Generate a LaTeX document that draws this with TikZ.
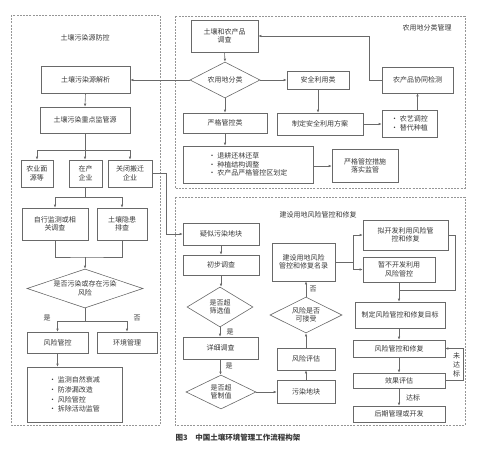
\documentclass[tikz,border=0pt]{standalone}
\usepackage{fontspec}
\setmainfont{Noto Sans CJK SC}
\usepackage{tikz}
\usetikzlibrary{positioning,shapes.geometric,arrows.meta}

\definecolor{linegray}{RGB}{105,105,105}
\definecolor{textgray}{RGB}{55,55,55}
\definecolor{panelgray}{RGB}{150,150,150}
\newcommand{\boxfont}{\fontsize{7}{8.6}\selectfont}

\tikzset{
  box/.style={draw=linegray, line width=0.6pt, align=center, inner sep=1pt, text=textgray, font=\boxfont},
  decide/.style={diamond, draw=linegray, line width=0.6pt, align=center, inner sep=0pt, text=textgray, font=\boxfont},
  panel/.style={draw=panelgray, line width=0.6pt, dash pattern=on 2pt off 1.2pt},
  flow/.style={draw=linegray, line width=0.6pt, -{Latex[length=3pt,width=2.6pt]}},
  link/.style={draw=linegray, line width=0.6pt},
  lbl/.style={text=textgray, font=\boxfont, inner sep=0pt}
}

\begin{document}
\begin{tikzpicture}[x=1pt,y=1pt,yscale=-1,xscale=1]
        \useasboundingbox (0,0) rectangle (477,463);

        %Panels
        \draw [panel] (11,15) rectangle (160,425);
        \draw [panel] (175,16) rectangle (465,188);
        \draw [panel] (175,197) rectangle (465,425);

        % Text Node
        \node [lbl] (ttlsrc) at (85,38) {土壤污染源防控};
        \node [lbl] (ttlfarm) at (427,28) {农用地分类管理};
        \node [lbl] (ttlland) at (318,215) {建设用地风险管控和修复};

        %Left: source control
        \node [box, minimum width=89, minimum height=27] (srcana) at (85.5,79.5) {土壤污染源解析};
        \node [box, minimum width=90, minimum height=26] (keysrc) at (85,120) {土壤污染重点监管源};
        \node [box, minimum width=32, minimum height=27] (agri) at (37,173.5) {农业面\\源等};
        \node [box, minimum width=33, minimum height=27] (prod) at (85.5,173.5) {在产\\企业};
        \node [box, minimum width=44, minimum height=27] (closed) at (130,173.5) {关闭搬迁\\企业};
        \node [box, minimum width=66, minimum height=32] (selfmon) at (55,224) {自行监测或相\\关调查};
        \node [box, minimum width=50, minimum height=32] (hidden) at (122,224) {土壤隐患\\排查};
        \node [decide, minimum width=116, minimum height=39, aspect=2.9] (polluted) at (85,288.5) {是否污染或存在污染\\风险};
        \node [box, minimum width=61, minimum height=21] (riskctl) at (57.5,342.5) {风险管控};
        \node [box, minimum width=60, minimum height=21] (envmgmt) at (127,342.5) {环境管理};
        \node [box, minimum width=95, minimum height=55, align=left, font=\fontsize{7}{9.7}\selectfont] (measures) at (74.5,394.5) {• 监测自然衰减\\• 防渗漏改造\\• 风险管控\\• 拆除活动监管};
        \coordinate (merge) at (85,257);

        %Top right: farmland
        \node [box, minimum width=67, minimum height=32] (survey) at (224.5,36) {土壤和农产品\\调查};
        \node [decide, minimum width=70, minimum height=36, aspect=1.9] (classify) at (225,80) {农用地分类};
        \node [box, minimum width=62, minimum height=18] (safeuse) at (318,80) {安全利用类};
        \node [box, minimum width=71, minimum height=26] (coinspect) at (417.5,80) {农产品协同检测};
        \node [box, minimum width=84, minimum height=20] (strict) at (225,123) {严格管控类};
        \node [box, minimum width=86, minimum height=22] (plan) at (320,124) {制定安全利用方案};
        \node [box, minimum width=55, minimum height=27, align=left] (agro) at (409.5,123.5) {• 农艺调控\\• 替代种植};
        \node [box, minimum width=130, minimum height=37, align=left] (retire) at (248,164.5) {• 退耕还林还草\\• 种植结构调整\\• 农产品严格管控区划定};
        \node [box, minimum width=66, minimum height=33] (strictsup) at (365,166) {严格管控措施\\落实监管};

        %Bottom right: construction land
        \node [box, minimum width=76, minimum height=22] (suspect) at (221,234) {疑似污染地块};
        \node [box, minimum width=76, minimum height=20] (prelim) at (221,265) {初步调查};
        \node [decide, minimum width=66, minimum height=40, aspect=1.6] (screen) at (220,307) {是否超\\筛选值};
        \node [box, minimum width=75, minimum height=22] (detail) at (220.5,348) {详细调查};
        \node [decide, minimum width=70, minimum height=34, aspect=2] (ctrlval) at (221,392) {是否超\\管制值};
        \node [box, minimum width=58, minimum height=23] (site) at (306,391.5) {污染地块};
        \node [box, minimum width=58, minimum height=22] (assess) at (306,359) {风险评估};
        \node [decide, minimum width=72, minimum height=36, aspect=2] (accept) at (306,315) {风险是否\\可接受};
        \node [box, minimum width=63, minimum height=38] (roster) at (303.5,262) {建设用地风险\\管控和修复名录};
        \node [box, minimum width=85, minimum height=30] (develop) at (405.5,235) {拟开发利用风险管\\控和修复};
        \node [box, minimum width=72, minimum height=25] (nodev) at (399,269.5) {暂不开发利用\\风险管控};
        \node [box, minimum width=90, minimum height=26] (target) at (400,315) {制定风险管控和修复目标};
        \node [box, minimum width=92, minimum height=17] (remed) at (399,348.5) {风险管控和修复};
        \node [box, minimum width=92, minimum height=15] (effect) at (399,380.5) {效果评估};
        \node [box, minimum width=92, minimum height=16] (post) at (399,414) {后期管理或开发};
        \coordinate (join) at (399,290);

        %Connectors left
        \draw [flow] (srcana.south) -- (keysrc.north);
        \draw [flow] (keysrc.south) -- ++(0,17) -| (agri.north);
        \draw [flow] (keysrc.south) -- ++(0,17) -| (closed.north);
        \draw [flow] (keysrc.south) -- (keysrc.south |- prod.north);
        \draw [flow] (prod.south) -- ++(0,10) -| (selfmon.north);
        \draw [flow] (prod.south) -- ++(0,10) -| (hidden.north);
        \draw [link] (selfmon.south) |- (merge) -| (hidden.south);
        \draw [flow] (merge) -- (polluted.north);
        \draw [flow] (polluted.south) -- ++(0,13) -| (riskctl.north);
        \draw [flow] (polluted.south) -- ++(0,13) -| (envmgmt.north);
        \draw [flow] (riskctl.south) -- (riskctl.south |- measures.north);
        \draw [flow] (closed.east) -- ++(14,0) |- (suspect.west);

        %Connectors farmland
        \draw [flow] (survey.south) -- (classify.north);
        \draw [flow] (classify.west) -- (classify.west -| srcana.east);
        \draw [flow] (classify.east) -- (safeuse.west);
        \draw [flow] (classify.south) -- (strict.north);
        \draw [flow] (safeuse.south) -- (safeuse.south |- plan.north);
        \draw [flow] (plan.east) -- (plan.east -| agro.west);
        \draw [flow] (agro.north -| coinspect.south) -- (coinspect.south);
        \draw [flow] (coinspect.west) -- ++(-12,0) |- (survey.east);
        \draw [flow] (strict.south) -- (retire.north -| strict.south);
        \draw [flow] (retire.east |- strictsup.west) -- (strictsup.west);

        %Connectors construction land
        \draw [flow] (suspect.south) -- (prelim.north);
        \draw [flow] (prelim.south) -- (prelim.south |- screen.north);
        \draw [flow] (screen.south) -- (screen.south |- detail.north);
        \draw [flow] (detail.south) -- (detail.south |- ctrlval.north);
        \draw [flow] (ctrlval.east) -- (ctrlval.east -| site.west);
        \draw [flow] (site.north) -- (assess.south);
        \draw [flow] (assess.north) -- (accept.south);
        \draw [flow] (accept.north) -- (accept.north |- roster.south);
        \draw [flow] (roster.east) -- ++(18,0) |- (develop.west);
        \draw [flow] (roster.east) -- ++(18,0) |- (nodev.west);
        \draw [link] (develop.east) -- ++(7,0) |- (join);
        \draw [flow] (nodev.south) -- (nodev.south |- target.north);
        \draw [flow] (target.south -| remed.north) -- (remed.north);
        \draw [flow] (remed.south) -- (effect.north);
        \draw [flow] (effect.south) -- (post.north);
        \draw [flow] (effect.east) -- ++(18,0) |- (remed.east);

        % Text Node
        \node [lbl] (yesl) at (47,318) {是};
        \node [lbl] (nol) at (137,318) {否};
        \node [lbl] (yesscr) at (230,332) {是};
        \node [lbl] (yesdet) at (229,366) {是};
        \node [lbl] (noacc) at (313,289) {否};
        \node [lbl] (okl) at (413,398) {达标};
        \node [lbl, align=center, font=\fontsize{7}{9}\selectfont] (faill) at (456.5,364.5) {未\\达\\标};
        \node [lbl, font=\bfseries\fontsize{7.5}{9}\selectfont] (caption) at (238,438) {图3\quad 中国土壤环境管理工作流程构架};
\end{tikzpicture}
\end{document}
